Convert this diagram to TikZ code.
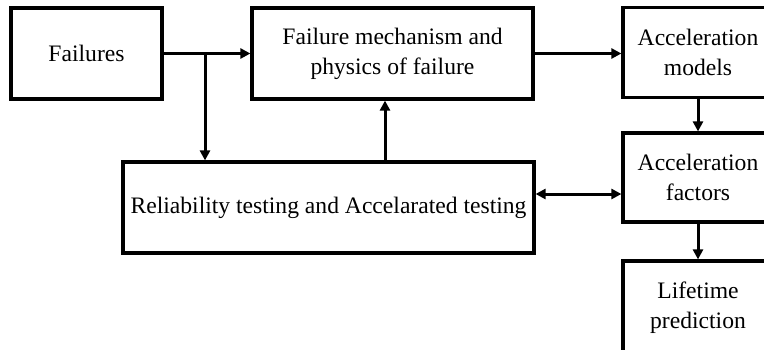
\documentclass[tikz,border=0pt]{standalone}
\usepackage{fontspec}
\setmainfont{Liberation Serif}
\usetikzlibrary{arrows.meta}
\begin{document}
\begin{tikzpicture}[x=1pt,y=-1pt,
  blk/.style={draw=black,line width=3.2pt,fill=white,inner sep=0pt,align=center,
    font=\fontsize{23.6}{30}\selectfont},
  conn/.style={line width=3pt,-{Triangle[length=10pt,width=10pt]}},
  dconn/.style={line width=3pt,{Triangle[length=10pt,width=10pt]}-{Triangle[length=10pt,width=10pt]}}]
\useasboundingbox (0,0) rectangle (764,349);
\clip (0,0) rectangle (764,349);
% blocks
\node[blk,minimum width=151pt,minimum height=91pt] (fail) at (86.5,53.5) {Failures};
\node[blk,minimum width=281pt,minimum height=91pt] (fm) at (392.5,53.5) {Failure mechanism and\\physics of failure};
\node[blk,minimum width=150pt,minimum height=90pt] (am) at (698,52.5) {Acceleration\\models};
\node[blk,minimum width=150pt,minimum height=89pt] (af) at (698,177.5) {Acceleration\\factors};
\node[blk,minimum width=411pt,minimum height=91pt] (rt) at (328.5,207.5) {Reliability testing and Accelarated testing};
\node[blk,minimum width=150pt,minimum height=94pt] (lp) at (698,308) {Lifetime\\prediction};
% connectors
\coordinate (br) at (205,53.5);
\coordinate (up) at (385,0);
\coordinate (hh) at (0,194);
\draw[conn] (fail.east) -- (fm.west);
\draw[conn] (br) -- (br |- rt.north);
\draw[conn] (up |- rt.north) -- (up |- fm.south);
\draw[conn] (fm.east) -- (am.west |- fm.east);
\draw[conn] (am.south) -- (af.north);
\draw[dconn] (rt.east |- hh) -- (af.west |- hh);
\draw[conn] (af.south) -- (lp.north);
\end{tikzpicture}
\end{document}
